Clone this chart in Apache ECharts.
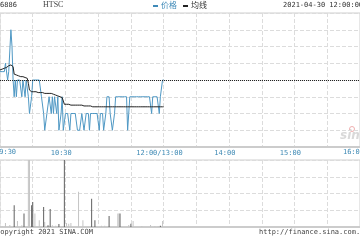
<!DOCTYPE html>
<html><head><meta charset="utf-8">
<script src="https://cdn.jsdelivr.net/npm/echarts@6/dist/echarts.min.js"></script>
<style>html,body{margin:0;padding:0;background:#fff}#c{width:360px;height:240px}</style>
</head><body><div id="c"></div>
<script>
// ---- data ----
const stockCode = '6886';
const stockName = 'HTSC';
const dateTime = '2021-04-30 12:00:00';
const prevClose = 11.72;
const tickLabels = {0:'09:30', 60:'10:30', 150:'12:00/13:00', 210:'14:00', 270:'15:00', 330:'16:00'};
// minute-by-minute price 09:30 -> 12:00
const price = [
11.73,11.73,11.73,11.73,11.73,11.74,11.74,11.72,11.73,11.73,
11.78,11.76,11.72,11.70,11.72,11.70,11.72,11.72,11.72,11.72,
11.70,11.72,11.72,11.70,11.72,11.72,11.70,11.68,11.68,11.70,
11.72,11.72,11.72,11.72,11.72,11.72,11.72,11.72,11.70,11.70,
11.68,11.66,11.66,11.68,11.68,11.70,11.70,11.68,11.70,11.68,
11.70,11.70,11.68,11.70,11.66,11.66,11.68,11.70,11.66,11.66,
11.68,11.68,11.68,11.68,11.66,11.68,11.68,11.68,11.68,11.68,
11.68,11.66,11.66,11.66,11.66,11.68,11.68,11.66,11.66,11.68,
11.68,11.68,11.66,11.68,11.68,11.68,11.68,11.68,11.68,11.68,
11.68,11.66,11.68,11.68,11.68,11.66,11.66,11.68,11.70,11.70,
11.70,11.68,11.68,11.66,11.66,11.68,11.70,11.70,11.70,11.70,
11.70,11.70,11.70,11.70,11.70,11.70,11.70,11.66,11.68,11.70,
11.70,11.70,11.70,11.70,11.70,11.70,11.70,11.70,11.70,11.70,
11.70,11.70,11.70,11.70,11.70,11.70,11.70,11.70,11.70,11.68,
11.70,11.70,11.70,11.70,11.70,11.70,11.68,11.70,11.70,11.72,
11.72];
const avgPrice = [
11.732,11.732,11.733,11.733,11.734,11.734,11.735,11.736,11.737,11.738,
11.738,11.738,11.736,11.727,11.726,11.726,11.725,11.725,11.725,11.724,
11.724,11.724,11.723,11.723,11.723,11.722,11.716,11.708,11.706,11.706,
11.706,11.706,11.706,11.706,11.705,11.705,11.705,11.705,11.705,11.705,
11.704,11.704,11.704,11.704,11.704,11.704,11.704,11.704,11.703,11.703,
11.702,11.702,11.701,11.701,11.700,11.700,11.700,11.699,11.697,11.691,
11.691,11.691,11.691,11.691,11.691,11.690,11.690,11.690,11.690,11.690,
11.690,11.690,11.690,11.690,11.690,11.690,11.689,11.689,11.689,11.689,
11.689,11.689,11.689,11.689,11.688,11.688,11.688,11.688,11.688,11.688,
11.688,11.688,11.688,11.688,11.688,11.688,11.688,11.688,11.688,11.688,
11.688,11.688,11.688,11.688,11.688,11.688,11.688,11.688,11.688,11.688,
11.688,11.688,11.688,11.688,11.688,11.688,11.688,11.688,11.688,11.688,
11.688,11.688,11.688,11.688,11.688,11.688,11.688,11.688,11.688,11.688,
11.688,11.688,11.688,11.688,11.688,11.688,11.688,11.688,11.688,11.688,
11.688,11.688,11.688,11.688,11.688,11.688,11.688,11.688,11.688,11.688,
11.688];
const volLight = [
6,0,4,0,0,24,0,0,0,12,
0,0,0,0,0,0,36,0,0,0,
10,0,0,0,0,0,420,420,0,0,
0,0,80,0,0,0,40,0,0,0,
0,30,0,0,0,0,0,0,10,0,
0,8,0,0,0,0,0,6,0,0,
0,24,0,20,0,24,0,0,0,0,
0,0,210,0,0,0,40,0,0,0,
0,0,0,0,0,0,0,0,0,0,
0,0,0,8,0,0,8,0,0,0,
0,0,0,0,0,0,0,0,80,80,
0,0,0,0,0,0,0,0,12,0,
0,0,36,0,0,0,0,0,0,0,
6,0,0,0,0,0,0,0,12,0,
0,0,6,0,0,6,0,0,0,36,
0];
const volDark = [
0,0,0,0,0,0,0,0,0,0,
0,0,0,130,0,0,0,0,0,0,
0,0,80,0,0,0,0,0,0,130,
150,0,0,0,0,0,0,0,0,0,
120,0,0,0,10,0,108,0,0,0,
0,0,0,0,18,0,0,0,0,420,
0,0,0,0,0,0,0,0,0,0,
0,0,0,0,0,0,0,0,0,0,
0,0,0,0,168,0,0,40,0,0,
0,0,0,0,0,0,0,0,0,0,
66,0,0,0,0,0,0,0,0,0,
80,0,0,0,0,0,0,0,0,0,
20,0,0,0,0,0,0,0,0,0,
0,0,0,0,0,0,0,0,0,0,
0,0,0,0,0,0,0,8,0,0,
0];

// minute categories 09:30-12:00 and 13:00-16:00 (12:00 and 13:00 share a slot)
const minutes = [];
for (let m = 0; m <= 330; m++) {
  let t = m <= 150 ? 570 + m : 780 + (m - 150);
  minutes.push(String(Math.floor(t/60)).padStart(2,'0') + ':' + String(t%60).padStart(2,'0'));
}

const mono = 'DejaVu Sans Mono';
const gridCol = '#dcdcdc';
const labelCol = '#3f8ab5';
const split30 = (i) => i % 30 === 0;
const inner = (i) => tickLabels[i] !== undefined && i !== 0 && i !== 330;

const chart = echarts.init(document.getElementById('c'), null, {renderer:'canvas'});
chart.setOption({
  animation: false,
  backgroundColor: '#fff',
  grid: [
    {left: -3, right: -3, top: 13, height: 134, show: true, borderColor: '#cfcfcf', borderWidth: 1, containLabel: false},
    {left: -3, right: -3, top: 160, height: 67, show: true, borderColor: '#cfcfcf', borderWidth: 1, containLabel: false}
  ],
  xAxis: [
    {type: 'category', gridIndex: 0, data: minutes, boundaryGap: false,
     axisLine: {lineStyle: {color: '#cccccc', width: 2}}, axisTick: {show: false},
     axisLabel: {interval: (i) => inner(i),
       formatter: (v, i) => tickLabels[i] + '  ',
       fontFamily: mono, fontSize: 7, color: labelCol, margin: 3},
     splitLine: {show: true, interval: split30, lineStyle: {color: gridCol, type: 'dashed', width: 1}}},
    {type: 'category', gridIndex: 1, data: minutes, boundaryGap: false,
     axisLine: {lineStyle: {color: '#cccccc', width: 2}}, axisTick: {show: false},
     axisLabel: {show: false},
     splitLine: {show: true, interval: split30, lineStyle: {color: gridCol, type: 'dashed', width: 1}}}
  ],
  yAxis: [
    {type: 'value', gridIndex: 0, min: 11.64, max: 11.80, interval: 0.02,
     axisLabel: {show: false}, axisLine: {show: false}, axisTick: {show: false},
     splitLine: {lineStyle: {color: gridCol, type: 'dashed', width: 1}}},
    {type: 'value', gridIndex: 1, min: 0, max: 400, interval: 100,
     axisLabel: {show: false}, axisLine: {show: false}, axisTick: {show: false},
     splitLine: {lineStyle: {color: gridCol, type: 'dashed', width: 1}}}
  ],
  series: [
    {name: '价格', type: 'line', xAxisIndex: 0, yAxisIndex: 0, data: price, symbol: 'none',
     lineStyle: {color: '#4f98c4', width: 1}, z: 3,
     markLine: {silent: true, symbol: 'none', label: {show: false},
       lineStyle: {color: '#222', type: 'dotted', width: 1}, data: [{yAxis: prevClose}]}},
    {name: '均线', type: 'line', xAxisIndex: 0, yAxisIndex: 0, data: avgPrice, symbol: 'none',
     lineStyle: {color: '#222', width: 1}, z: 4},
    {type: 'bar', xAxisIndex: 1, yAxisIndex: 1, data: volLight, barWidth: 1, barGap: '-100%',
     itemStyle: {color: '#c4c4c4'}},
    {type: 'bar', xAxisIndex: 1, yAxisIndex: 1, data: volDark, barWidth: 1, barGap: '-100%',
     itemStyle: {color: '#606060'}}
  ],
  graphic: [
    {type: 'text', x: -5, y: 149, style: {text: tickLabels[0], font: '7px "DejaVu Sans Mono"', fill: labelCol}},
    {type: 'text', x: 364, y: 149, style: {text: tickLabels[330], font: '7px "DejaVu Sans Mono"', fill: labelCol, align: 'right'}},
    {type: 'text', left: 0, top: 2, style: {text: stockCode, font: '7px "DejaVu Sans Mono"', fill: '#333'}},
    {type: 'text', left: 43, top: 1, style: {text: stockName, font: '8px "Liberation Serif"', fill: '#444'}},
    {type: 'rect', shape: {x: 153, y: 5, width: 5, height: 2}, style: {fill: '#3f8ab8'}},
    {type: 'text', left: 161, top: 1, style: {text: '价格', font: '8px "Noto Sans CJK SC"', fill: '#3f8ab8'}},
    {type: 'rect', shape: {x: 183, y: 5, width: 5, height: 2}, style: {fill: '#222'}},
    {type: 'text', left: 191, top: 1, style: {text: '均线', font: '8px "Noto Sans CJK SC"', fill: '#333'}},
    {type: 'text', left: 283, top: 2, style: {text: dateTime, font: '7px "DejaVu Sans Mono"', fill: '#333'}},
    {type: 'text', x: -4, y: 229, style: {text: 'Copyright 2021 SINA.COM', font: '7px "DejaVu Sans Mono"', fill: '#444'}},
    {type: 'text', x: 259, y: 229, style: {text: 'http://finance.sina.com.cn', font: '7px "DejaVu Sans Mono"', fill: '#444'}},
    {type: 'text', left: 340, top: 130, style: {text: 'sina', font: 'italic bold 12px "DejaVu Sans"', fill: '#d9d9d9'}},
    {type: 'circle', shape: {cx: 352, cy: 129, r: 2.5}, style: {fill: 'none', stroke: '#f0b0b0', lineWidth: 1}}
  ]
});
</script>
</body></html>
